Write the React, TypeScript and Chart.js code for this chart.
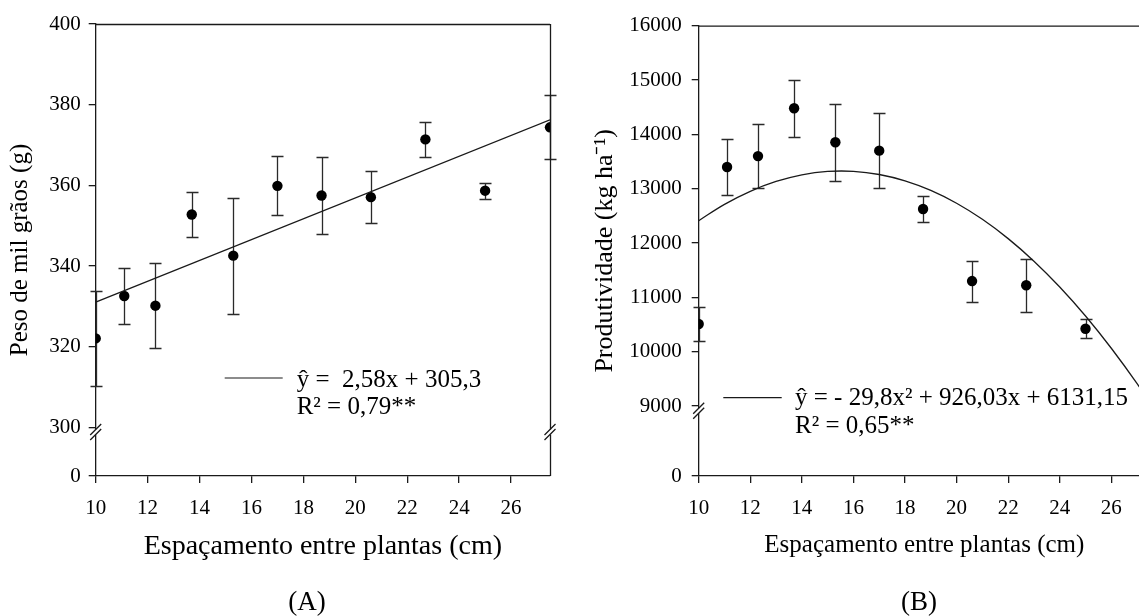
import React, { useEffect, useRef } from "react";
import { Chart, registerables } from "chart.js";

Chart.register(...registerables);

// ---------- Data: panel A (Peso de mil grãos) ----------
const spacingA = [10, 11.1, 12.3, 13.7, 15.3, 17, 18.7, 20.6, 22.7, 25, 27.5];
const weightA = [322.1, 332.6, 330.2, 352.8, 342.6, 359.9, 357.5, 357.1, 371.4, 358.7, 374.4];
const weightErrA = [11.7, 7.0, 10.5, 5.6, 14.4, 7.3, 9.6, 6.5, 4.3, 2.0, 7.9];
const fitXA = [10, 27.5];
const fitYA = [331.1, 376.25];
const yTicksA = [300, 320, 340, 360, 380, 400];
const yZeroA = 288; // position of the "0" label below the axis break
const yBreakA = 298.9;
const legendA = ["ŷ =  2,58x + 305,3", "R² = 0,79**"];

// ---------- Data: panel B (Produtividade) ----------
const spacingB = [10, 11.1, 12.3, 13.7, 15.3, 17, 18.7, 20.6, 22.7, 25];
const yieldB = [10510, 13400, 13600, 14480, 13855, 13700, 12626, 11300, 11222, 10423];
const yieldErrB = [318, 515, 590, 525, 710, 690, 242, 378, 490, 170];
const fitXB = [10, 11, 12, 13, 14, 15, 16, 17, 18, 19, 20, 21, 22, 23, 24, 25, 26, 27, 28];
const fitYB = [12411, 12712, 12952, 13133, 13255, 13317, 13319, 13261, 13144, 12968, 12732, 12436, 12081, 11666, 11191, 10657, 10063, 9410, 8697];
const yTicksB = [9000, 10000, 11000, 12000, 13000, 14000, 15000, 16000];
const yZeroB = 7712;
const yBreakB = 8914;
const legendB = ["ŷ = - 29,8x² + 926,03x + 6131,15", "R² = 0,65**"];

const xTicks = [10, 12, 14, 16, 18, 20, 22, 24, 26];

const SERIF = '"Liberation Serif", "Times New Roman", serif';
const INK = "#1a1a1a";

type Panel = {
  xs: number[];
  ys: number[];
  errs: number[];
  fitX: number[];
  fitY: number[];
  tension: number;
  yMax: number;
  yTicks: number[];
  yZero: number;
  yBreak: number;
  breakRight: boolean;
  yTitle: string;
  yTitleSize: number;
  yTitlePad: number;
  yAxisWidth: number;
  yTickPad: number;
  xTitleSize: number;
  xTitlePad: number;
  padTop: number;
  legend: string[];
  legendLine: [number, number, number];
  legendText: [number, number, number];
  legendSize: number;
};

function makeChart(canvas: HTMLCanvasElement, p: Panel) {
  const decor = {
    id: "decor",
    beforeDatasetsDraw(chart: any) {
      const { ctx, scales } = chart;
      const x = scales.x;
      const y = scales.y;
      ctx.save();
      ctx.strokeStyle = "#2a2a2a";
      ctx.lineWidth = 1.3;
      p.xs.forEach((xv, i) => {
        const px = Math.round(x.getPixelForValue(xv)) + 0.5;
        const top = Math.round(y.getPixelForValue(p.ys[i] + p.errs[i])) + 0.5;
        const bot = Math.round(y.getPixelForValue(p.ys[i] - p.errs[i])) + 0.5;
        ctx.beginPath();
        ctx.moveTo(px, top);
        ctx.lineTo(px, bot);
        ctx.moveTo(px - 6, top);
        ctx.lineTo(px + 6, top);
        ctx.moveTo(px - 6, bot);
        ctx.lineTo(px + 6, bot);
        ctx.stroke();
      });
      ctx.restore();
    },
    afterDraw(chart: any) {
      const { ctx, chartArea, scales } = chart;
      const y = scales.y;
      ctx.save();
      ctx.strokeStyle = INK;
      ctx.lineWidth = 1.3;
      // frame: top and right
      ctx.beginPath();
      ctx.moveTo(chartArea.left, chartArea.top + 0.5);
      ctx.lineTo(chartArea.right, chartArea.top + 0.5);
      ctx.moveTo(chartArea.right + 0.5, chartArea.top);
      ctx.lineTo(chartArea.right + 0.5, chartArea.bottom);
      ctx.stroke();
      // axis breaks
      const by = y.getPixelForValue(p.yBreak);
      const drawBreak = (bx: number) => {
        ctx.fillStyle = "#ffffff";
        ctx.fillRect(bx - 2, by - 2.5, 4, 5);
        ctx.beginPath();
        [-2.5, 2.5].forEach((d) => {
          ctx.moveTo(bx - 5.5, by + d + 5.5);
          ctx.lineTo(bx + 5.5, by + d - 5.5);
        });
        ctx.stroke();
      };
      drawBreak(chartArea.left);
      if (p.breakRight) drawBreak(chartArea.right);
      // legend
      const [lx1, lx2, ly] = p.legendLine;
      ctx.lineWidth = 1.2;
      ctx.beginPath();
      ctx.moveTo(chartArea.left + lx1, chartArea.top + ly);
      ctx.lineTo(chartArea.left + lx2, chartArea.top + ly);
      ctx.stroke();
      ctx.fillStyle = "#000";
      ctx.font = `${p.legendSize}px ${SERIF}`;
      ctx.textBaseline = "middle";
      ctx.textAlign = "left";
      const [tx, ty1, ty2] = p.legendText;
      ctx.fillText(p.legend[0], chartArea.left + tx, chartArea.top + ty1);
      ctx.fillText(p.legend[1], chartArea.left + tx, chartArea.top + ty2);
      ctx.restore();
    },
  };

  return new Chart(canvas, {
    type: "scatter",
    data: {
      datasets: [
        {
          label: "fit",
          data: p.fitX.map((v, i) => ({ x: v, y: p.fitY[i] })),
          showLine: true,
          borderColor: INK,
          borderWidth: 1.3,
          pointRadius: 0,
          tension: p.tension,
          fill: false,
        },
        {
          label: "obs",
          data: p.xs.map((v, i) => ({ x: v, y: p.ys[i] })),
          backgroundColor: "#000",
          borderWidth: 0,
          pointRadius: 5.2,
          pointHoverRadius: 5.2,
        },
      ],
    },
    options: {
      animation: false,
      responsive: false,
      devicePixelRatio: 1,
      layout: { padding: { left: 0, top: p.padTop, right: 20, bottom: 28 } },
      plugins: { legend: { display: false }, tooltip: { enabled: false }, title: { display: false } },
      scales: {
        x: {
          type: "linear",
          min: 10,
          max: 27.5,
          afterBuildTicks: (s: any) => {
            s.ticks = xTicks.map((v) => ({ value: v }));
          },
          afterFit: (s: any) => {
            s.height = 112;
          },
          grid: { drawOnChartArea: false, drawTicks: true, tickLength: 7, color: INK, lineWidth: 1.3 },
          border: { display: true, color: INK, width: 1.3 },
          ticks: {
            color: "#000",
            font: { family: SERIF, size: 21 },
            padding: 13,
            maxRotation: 0,
            autoSkip: false,
            callback: (v: any) => String(v),
          },
          title: {
            display: true,
            text: "Espaçamento entre plantas (cm)",
            color: "#000",
            font: { family: SERIF, size: p.xTitleSize, lineHeight: 1.2 },
            padding: { top: 0, bottom: p.xTitlePad },
          },
        },
        y: {
          type: "linear",
          min: p.yZero,
          max: p.yMax,
          afterBuildTicks: (s: any) => {
            s.ticks = [p.yZero, ...p.yTicks].map((v) => ({ value: v }));
          },
          afterFit: (s: any) => {
            s.width = p.yAxisWidth;
          },
          grid: { drawOnChartArea: false, drawTicks: true, tickLength: 7, color: INK, lineWidth: 1.3 },
          border: { display: true, color: INK, width: 1.3 },
          ticks: {
            color: "#000",
            font: { family: SERIF, size: 21 },
            padding: p.yTickPad,
            autoSkip: false,
            callback: (v: any) => (v === p.yZero ? "0" : String(v)),
          },
          title: {
            display: true,
            text: p.yTitle,
            color: "#000",
            font: { family: SERIF, size: p.yTitleSize, lineHeight: 1.2 },
            padding: { top: p.yTitlePad, bottom: 0 },
          },
        },
      },
    },
    plugins: [decor],
  } as any);
}

const panelA: Panel = {
  xs: spacingA,
  ys: weightA,
  errs: weightErrA,
  fitX: fitXA,
  fitY: fitYA,
  tension: 0,
  yMax: 400,
  yTicks: yTicksA,
  yZero: yZeroA,
  yBreak: yBreakA,
  breakRight: true,
  yTitle: "Peso de mil grãos (g)",
  yTitleSize: 25,
  yTitlePad: 5,
  yAxisWidth: 95.7,
  yTickPad: 8,
  xTitleSize: 28,
  xTitlePad: 25,
  padTop: 24,
  legend: legendA,
  legendLine: [129, 187, 354],
  legendText: [201, 356, 383],
  legendSize: 25,
};

const panelB: Panel = {
  xs: spacingB,
  ys: yieldB,
  errs: yieldErrB,
  fitX: fitXB,
  fitY: fitYB,
  tension: 0.4,
  yMax: 16000,
  yTicks: yTicksB,
  yZero: yZeroB,
  yBreak: yBreakB,
  breakRight: true,
  yTitle: "Produtividade (kg ha⁻¹)",
  yTitleSize: 26,
  yTitlePad: 20,
  yAxisWidth: 128.7,
  yTickPad: 10,
  xTitleSize: 25,
  xTitlePad: 28,
  padTop: 25.7,
  legend: legendB,
  legendLine: [24.6, 83, 372],
  legendText: [96.3, 372.3, 401],
  legendSize: 25,
};

function Panel({ panel, left, width }: { panel: Panel; left: number; width: number }) {
  const ref = useRef<HTMLCanvasElement | null>(null);
  useEffect(() => {
    if (!ref.current) return;
    const chart = makeChart(ref.current, panel);
    return () => chart.destroy();
  }, [panel]);
  return (
    <canvas
      ref={ref}
      width={width}
      height={616}
      style={{ position: "absolute", left, top: 0, width, height: 616 }}
    />
  );
}

const labelStyle: React.CSSProperties = {
  position: "absolute",
  top: 588,
  fontFamily: SERIF,
  fontSize: 27,
  lineHeight: "27px",
  color: "#000",
  transform: "translateX(-50%)",
  whiteSpace: "nowrap",
};

export default function App() {
  return (
    <div
      style={{
        position: "fixed",
        left: 0,
        top: 0,
        width: 1139,
        height: 616,
        overflow: "hidden",
        background: "#fff",
      }}
    >
      <Panel panel={panelA} left={0} width={570} />
      <Panel panel={panelB} left={570} width={600} />
      <div style={{ ...labelStyle, left: 307 }}>(A)</div>
      <div style={{ ...labelStyle, left: 919 }}>(B)</div>
    </div>
  );
}
